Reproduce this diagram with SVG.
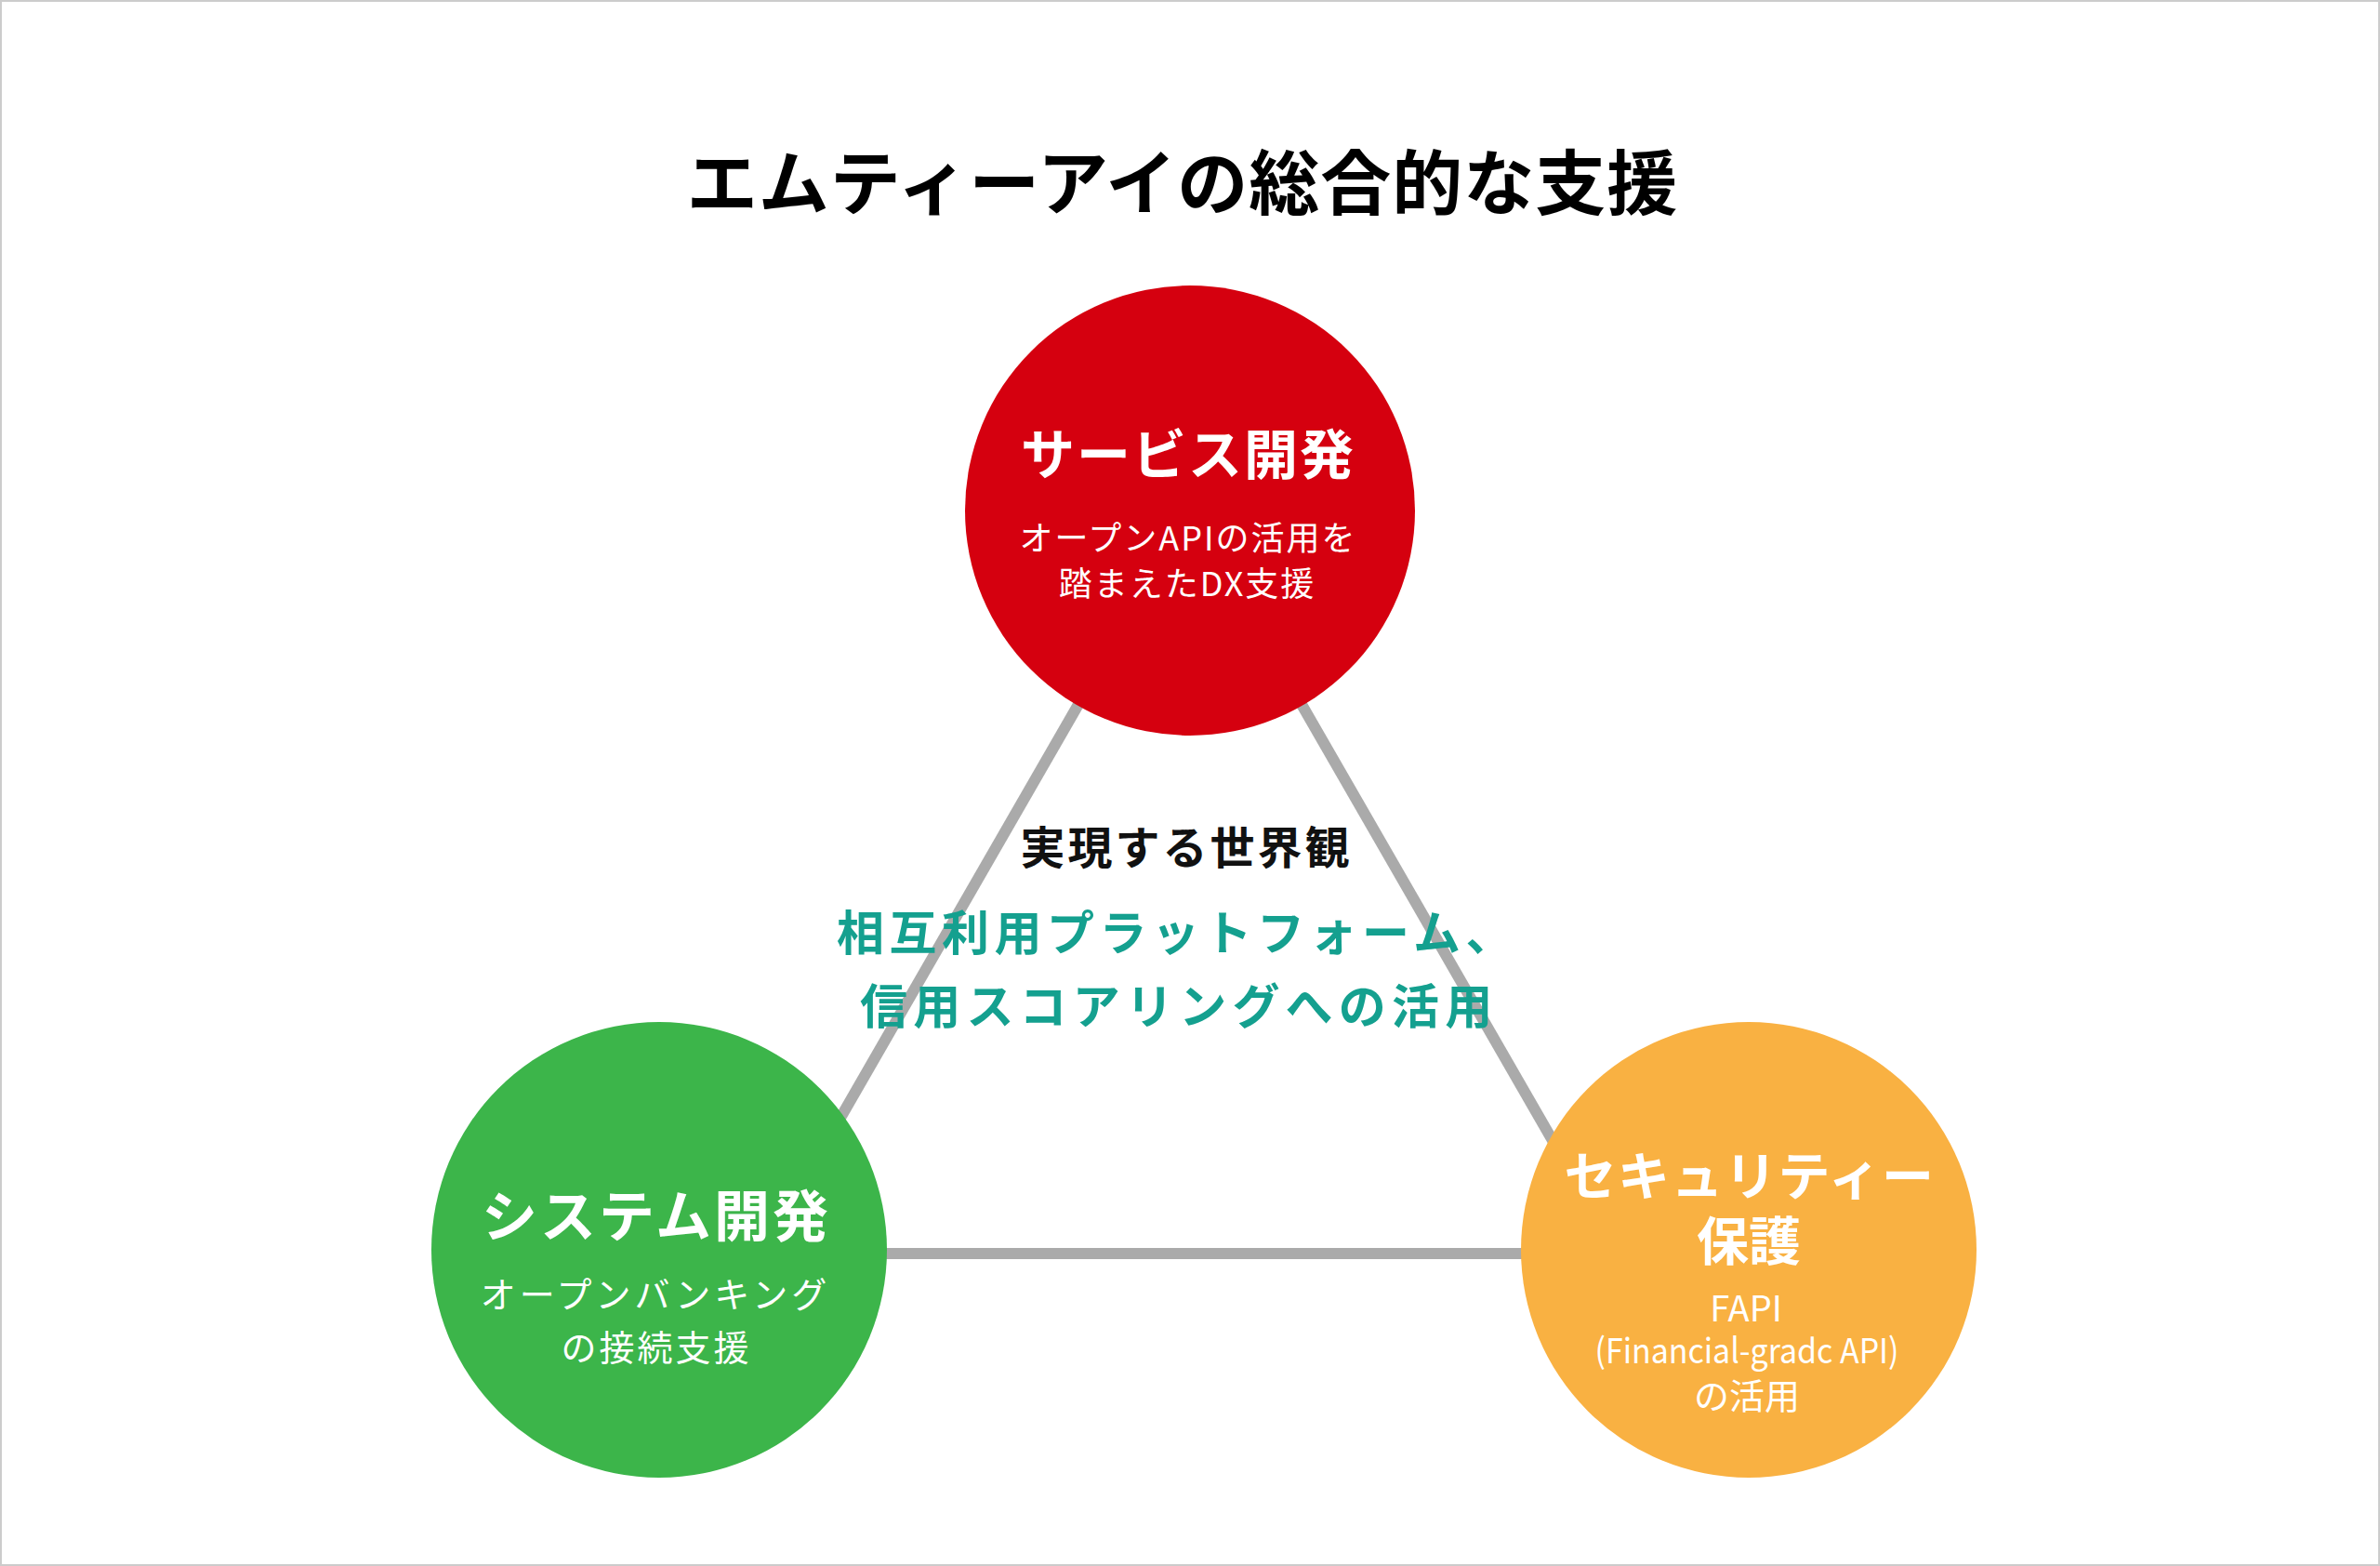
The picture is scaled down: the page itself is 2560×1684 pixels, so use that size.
<svg xmlns="http://www.w3.org/2000/svg" width="2560" height="1684" viewBox="0 0 2560 1684">
<style>
.t{font-family:"Noto Sans CJK JP","Noto Sans",sans-serif;}
.b{font-weight:700;}
.w{fill:#ffffff;}
.mid{text-anchor:middle;}
.conn{fill:none;stroke:#aaaaaa;stroke-width:12;}
</style>
<rect x="1" y="1" width="2558" height="1682" fill="#ffffff" stroke="#cccccc" stroke-width="2"/>
<text id="title" class="t b mid" x="1272" y="225" font-size="76" letter-spacing="1" fill="#000000">エムティーアイの総合的な支援</text>
<g id="connectors">
<line class="conn" x1="1280" y1="549" x2="820" y2="1348"/>
<line class="conn" x1="1280" y1="549" x2="1740" y2="1348"/>
<line class="conn" x1="820" y1="1348" x2="1740" y2="1348"/>
</g>
<g id="center-text">
<text class="t b mid" x="1276" y="929" font-size="48" letter-spacing="3" fill="#111111">実現する世界観</text>
<text class="t b" x="900" y="1022" font-size="51" letter-spacing="5.5" fill="#14a08f">相互利用プラットフォーム、</text>
<text class="t b" x="925" y="1101" font-size="51" letter-spacing="6.2" fill="#14a08f">信用スコアリングへの活用</text>
</g>
<g id="service">
<circle cx="1280" cy="549" r="242" fill="#d5000f"/>
<text class="t b w mid" x="1278" y="510" font-size="58" letter-spacing="2">サービス開発</text>
<text class="t w mid" x="1278" y="592" font-size="36" letter-spacing="2">オープンAPIの活用を</text>
<text class="t w mid" x="1277" y="641" font-size="36" letter-spacing="2">踏まえたDX支援</text>
</g>
<g id="system">
<circle cx="709" cy="1344" r="245" fill="#3cb54a"/>
<text class="t b w mid" x="706" y="1330" font-size="60" letter-spacing="3">システム開発</text>
<text class="t w mid" x="705" y="1406" font-size="38" letter-spacing="4">オープンバンキング</text>
<text class="t w mid" x="706" y="1463" font-size="38" letter-spacing="3">の接続支援</text>
</g>
<g id="security">
<circle cx="1881" cy="1344" r="245" fill="#f9b142"/>
<text class="t b w mid" x="1882" y="1285" font-size="56" letter-spacing="1.5">セキュリティー</text>
<text class="t b w mid" x="1881" y="1355" font-size="56">保護</text>
<text class="t w mid" x="1878" y="1421" font-size="38">FAPI</text>
<text class="t w mid" x="1879" y="1466" font-size="37" textLength="327" lengthAdjust="spacingAndGlyphs">(Financial-gradc API)</text>
<text class="t w mid" x="1879" y="1515" font-size="38">の活用</text>
</g>
</svg>
